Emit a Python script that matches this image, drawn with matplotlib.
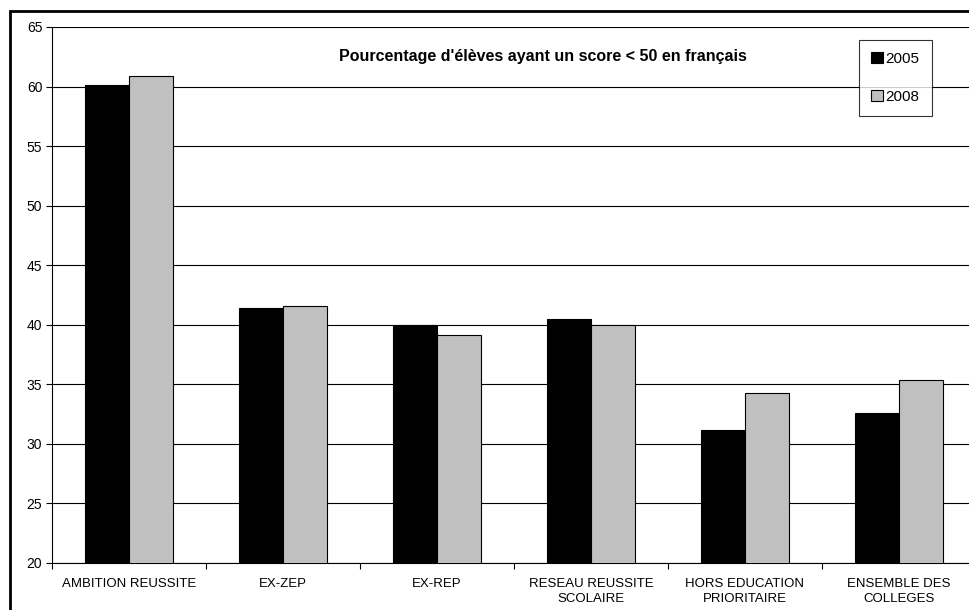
import numpy as np
import matplotlib
matplotlib.use("Agg")
import matplotlib.pyplot as plt
from matplotlib.patches import Rectangle

plt.rcParams['font.family'] = ['Liberation Sans', 'DejaVu Sans']

# données
categories = ["AMBITION REUSSITE", "EX-ZEP", "EX-REP",
              "RESEAU REUSSITE\nSCOLAIRE", "HORS EDUCATION\nPRIORITAIRE",
              "ENSEMBLE DES\nCOLLEGES"]
val_2005 = [60.1, 41.4, 40.0, 40.5, 31.2, 32.6]
val_2008 = [60.9, 41.6, 39.1, 40.0, 34.3, 35.4]
series_names = ["2005", "2008"]
y_ticks = [20, 25, 30, 35, 40, 45, 50, 55, 60, 65]
title = "Pourcentage d'élèves ayant un score < 50 en français"

W, H = 970, 610
fig = plt.figure(figsize=(W / 100, H / 100), dpi=100)
ax = fig.add_axes([52 / W, 1 - 563 / H, 924 / W, 536 / H])

x = np.arange(len(categories))
bw = 0.286
ax.bar(x - bw / 2, val_2005, bw, color="black", edgecolor="black",
       linewidth=0.8, label=series_names[0], zorder=3)
ax.bar(x + bw / 2, val_2008, bw, color="#C0C0C0", edgecolor="black",
       linewidth=0.8, label=series_names[1], zorder=3)

ax.set_xlim(-0.5, len(categories) - 0.5)
ax.set_ylim(20, 65)
ax.set_yticks(y_ticks)
ax.tick_params(axis="y", labelsize=10, length=4, width=0.8, pad=3, direction="out")
ax.yaxis.grid(True, color="black", linewidth=0.8, zorder=0)
ax.set_axisbelow(True)

ax.set_xticks(x)
ax.set_xticklabels(categories, fontsize=9.5, linespacing=1.3)
ax.set_xticks(np.arange(len(categories) + 1) - 0.5, minor=True)
ax.tick_params(axis="x", which="major", length=0, pad=11)
ax.tick_params(axis="x", which="minor", length=4, width=0.8, direction="out")

for s in ["top", "right"]:
    ax.spines[s].set_visible(False)
for s in ["left", "bottom"]:
    ax.spines[s].set_linewidth(0.8)
    ax.spines[s].set_color("black")

fig.text(543 / W, 1 - 57 / H, title, ha="center", va="center",
         fontsize=11.5, fontweight="bold")

leg = fig.legend(loc="upper left", bbox_to_anchor=(859 / W, 1 - 40 / H),
                 fontsize=11, frameon=True, fancybox=False, shadow=False,
                 handlelength=0.75, handleheight=0.75, handletextpad=0.2,
                 labelspacing=1.55, borderpad=0.8, borderaxespad=0)
leg.get_frame().set_edgecolor("black")
leg.get_frame().set_linewidth(0.8)

# cadre extérieur du graphique
fig.patches.append(Rectangle((10 / W, -0.1), 1.2, 1 - 11 / H + 0.1,
                             transform=fig.transFigure, fill=False,
                             edgecolor="black", linewidth=2))

fig.savefig("out.png", dpi=100, facecolor="white")
